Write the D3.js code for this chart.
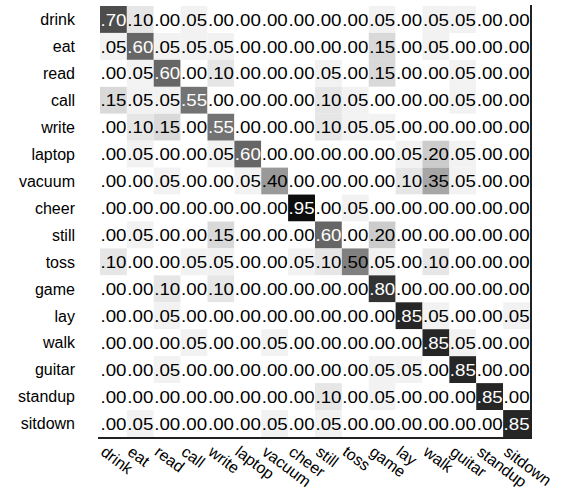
<!DOCTYPE html>
<html><head><meta charset="utf-8">
<script src="https://cdn.jsdelivr.net/npm/d3@7"></script>
<style>body{margin:0;background:#fff}svg{display:block}</style>
</head><body>
<svg id="c" width="562" height="491"></svg>
<script>
const classes = ["drink","eat","read","call","write","laptop","vacuum","cheer","still","toss","game","lay","walk","guitar","standup","sitdown"];
const drink   = [.70,.10,.00,.05,.00,.00,.00,.00,.00,.00,.05,.00,.05,.05,.00,.00];
const eat     = [.05,.60,.05,.05,.05,.00,.00,.00,.00,.00,.15,.00,.05,.00,.00,.00];
const read    = [.00,.05,.60,.00,.10,.00,.00,.00,.05,.00,.15,.00,.00,.05,.00,.00];
const call    = [.15,.05,.05,.55,.00,.00,.00,.00,.10,.05,.00,.00,.00,.05,.00,.00];
const write   = [.00,.10,.15,.00,.55,.00,.00,.00,.10,.05,.05,.00,.00,.00,.00,.00];
const laptop  = [.00,.05,.00,.00,.05,.60,.00,.00,.00,.00,.00,.05,.20,.05,.00,.00];
const vacuum  = [.00,.00,.05,.00,.00,.05,.40,.00,.00,.00,.00,.10,.35,.05,.00,.00];
const cheer   = [.00,.00,.00,.00,.00,.00,.00,.95,.00,.05,.00,.00,.00,.00,.00,.00];
const still   = [.00,.05,.00,.00,.15,.00,.00,.00,.60,.00,.20,.00,.00,.00,.00,.00];
const toss    = [.10,.00,.00,.05,.05,.00,.00,.05,.10,.50,.05,.00,.10,.00,.00,.00];
const game    = [.00,.00,.10,.00,.10,.00,.00,.00,.00,.00,.80,.00,.00,.00,.00,.00];
const lay     = [.00,.00,.05,.00,.00,.00,.00,.00,.00,.00,.00,.85,.05,.00,.00,.05];
const walk    = [.00,.00,.00,.05,.00,.00,.05,.00,.00,.00,.00,.00,.85,.05,.00,.00];
const guitar  = [.00,.00,.05,.00,.00,.00,.00,.00,.00,.00,.05,.05,.00,.85,.00,.00];
const standup = [.00,.00,.00,.00,.00,.00,.00,.00,.10,.00,.05,.00,.00,.00,.85,.00];
const sitdown = [.00,.05,.00,.00,.00,.00,.05,.00,.05,.00,.00,.00,.00,.00,.00,.85];
const matrix = [drink,eat,read,call,write,laptop,vacuum,cheer,still,toss,game,lay,walk,guitar,standup,sitdown];

const svg = d3.select("#c");
const x = d3.scaleBand().domain(classes).range([100,530]);
const y = d3.scaleBand().domain(classes).range([6,437]);
const gray = d3.scaleLinear().domain([0,1]).range([255,0]);
const fmt = v => d3.format(".2f")(v).replace(/^0/,"");
const font = "Liberation Sans, Arial, Helvetica, sans-serif";

const cells = [];
matrix.forEach((row,i)=>row.forEach((v,j)=>cells.push({r:classes[i],c:classes[j],v})));

svg.append("g").selectAll("rect").data(cells).join("rect")
  .attr("x",d=>x(d.c)).attr("y",d=>y(d.r))
  .attr("width",x.bandwidth()).attr("height",y.bandwidth())
  .attr("fill",d=>{const g=Math.round(gray(d.v));return d3.rgb(g,g,g);});

svg.append("g").selectAll("text").data(cells).join("text")
  .attr("x",d=>x(d.c)+x.bandwidth()/2).attr("y",d=>y(d.r)+y.bandwidth()/2)
  .attr("text-anchor","middle").attr("dy","0.36em")
  .attr("font-family",font).attr("font-size",17)
  .attr("textLength",26).attr("lengthAdjust","spacingAndGlyphs")
  .attr("fill",d=>d.v>=0.55?"#fff":"#000")
  .text(d=>fmt(d.v));

// row labels
svg.append("g").selectAll("text").data(classes).join("text")
  .attr("x",75).attr("y",d=>y(d)+y.bandwidth()/2).attr("dy","0.36em")
  .attr("text-anchor","end").attr("font-family",font).attr("font-size",16)
  .attr("fill","#000").text(d=>d);

// column labels
svg.append("g").selectAll("text").data(classes).join("text")
  .attr("transform",d=>`translate(${x(d)+x.bandwidth()/2-7},${445}) rotate(37)`)
  .attr("dy","0.7em")
  .attr("text-anchor","start").attr("font-family",font).attr("font-size",16)
  .attr("fill","#000").text(d=>d);

// axes lines
svg.append("line").attr("x1",98).attr("x2",531).attr("y1",438).attr("y2",438)
  .attr("stroke","#222").attr("stroke-width",2);
svg.append("line").attr("x1",531).attr("x2",531).attr("y1",5).attr("y2",439)
  .attr("stroke","#222").attr("stroke-width",2);
</script>
</body></html>
